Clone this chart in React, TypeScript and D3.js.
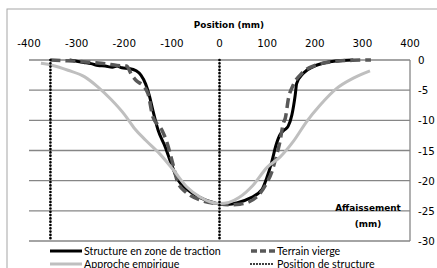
import React from "react";
import * as d3 from "d3";

// x = position (mm), v = affaissement (mm)
const structureX = [-315, -300, -285, -270, -255, -240, -225, -215, -205, -190, -175, -165, -155, -147, -140, -129, -114, -100, -87, -70, -50, -30, -10, 0, 20, 36, 64, 89, 99, 110, 118, 127, 136, 144, 152, 159, 162, 176, 197, 225, 259, 281];
const structureV = [0, -0.2, -0.4, -0.6, -0.9, -1.0, -1.2, -1.0, -1.3, -1.4, -1.8, -2.5, -4, -6, -8.3, -11.6, -14.4, -17.5, -19.9, -21.3, -22.4, -23.2, -23.7, -23.9, -23.9, -23.7, -22.9, -21.5, -19.6, -16.8, -14.3, -12.4, -11.6, -11, -9.1, -5.8, -3.9, -2.2, -1.1, -0.4, -0.1, 0];

const terrainX = [-355, -330, -300, -270, -240, -215, -195, -185, -175, -160, -150, -140, -121, -111, -100, -87, -69, -41, -6, 20, 43, 78, 99, 110, 117, 127, 134, 138, 145, 155, 173, 204, 246, 280, 318];
const terrainV = [0, -0.1, -0.2, -0.4, -0.6, -0.9, -1.0, -2.4, -3.4, -4.3, -5.6, -9.4, -11.6, -13.5, -16.6, -20.4, -22, -23.2, -23.8, -24, -23.9, -22.7, -20.4, -18.5, -16.6, -13.5, -10.5, -9.7, -6.3, -4.1, -2.2, -0.8, -0.2, -0.05, 0];

const empiriqueX = [-375, -350, -318, -283, -255, -227, -199, -178, -155, -125, -97, -69, -41, -20, 0, 20, 41, 70, 100, 127, 155, 183, 211, 246, 281, 316];
const empiriqueV = [-0.55, -0.9, -1.7, -2.8, -4.5, -6.6, -9.1, -11.4, -13.3, -15.6, -18.2, -21, -22.7, -23.5, -23.8, -23.6, -22.8, -20.8, -17.8, -16.1, -13.5, -10.2, -7.5, -4.7, -3.0, -1.8];

const structurePositions = [-355, 0];

const xTicks = [-400, -300, -200, -100, 0, 100, 200, 300, 400];
const yTicks = [0, -5, -10, -15, -20, -25, -30];

const legendItems = [
  "Structure en zone de traction",
  "Terrain vierge",
  "Approche empirique",
  "Position de structure",
];

const App = () => {
  const x = d3.scaleLinear().domain([-400, 400]).range([29, 410]);
  const y = d3.scaleLinear().domain([0, -30]).range([60, 241]);

  const line = d3
    .line<[number, number]>()
    .x((d) => x(d[0]))
    .y((d) => y(d[1]))
    .curve(d3.curveMonotoneX);

  const zip = (xs: number[], vs: number[]) =>
    xs.map((v, i) => [v, vs[i]] as [number, number]);

  const tickFont = "'DejaVu Sans', Verdana, sans-serif";
  const legendFont = "Lato, 'Liberation Sans', sans-serif";

  return (
    <svg
      width={437}
      height={268}
      style={{ position: "absolute", left: 0, top: 0, background: "#fff" }}
    >
      <rect x={7} y={9} width={500} height={320} fill="#fff" stroke="#a6a6a6" strokeWidth={1} />

      {/* gridlines */}
      {yTicks.map((t) => (
        <line key={t} x1={x(-400)} x2={x(400)} y1={y(t)} y2={y(t)} stroke="#868686" strokeWidth={1.3} />
      ))}
      <line x1={x(400)} x2={x(400)} y1={y(0)} y2={y(-30)} stroke="#868686" strokeWidth={1.3} />

      {/* x axis labels (top) */}
      {xTicks.map((t) => (
        <text key={t} x={x(t)} y={47} textAnchor="middle" fontFamily={tickFont} fontSize={10.3} fill="#000">
          {t}
        </text>
      ))}
      <text x={229} y={28} textAnchor="middle" fontFamily={tickFont} fontWeight="bold" fontSize={8.9}>
        Position (mm)
      </text>

      {/* y axis labels (right) */}
      {yTicks.map((t) => (
        <text key={t} x={418} y={y(t) + 4} fontFamily={tickFont} fontSize={10.3} fill="#000">
          {t}
        </text>
      ))}
      <text x={368} y={211} textAnchor="middle" fontFamily={tickFont} fontWeight="bold" fontSize={8.9}>
        Affaissement
      </text>
      <text x={368} y={227} textAnchor="middle" fontFamily={tickFont} fontWeight="bold" fontSize={8.9}>
        (mm)
      </text>

      {/* series */}
      <path d={line(zip(structureX, structureV)) ?? ""} fill="none" stroke="#000" strokeWidth={3} strokeLinejoin="round" />
      <path d={line(zip(terrainX, terrainV)) ?? ""} fill="none" stroke="#595959" strokeWidth={3.5} strokeDasharray="10,5" />
      <path d={line(zip(empiriqueX, empiriqueV)) ?? ""} fill="none" stroke="#bfbfbf" strokeWidth={3} />
      {structurePositions.map((p) => (
        <line key={p} x1={x(p)} x2={x(p)} y1={y(0)} y2={y(-30)} stroke="#000" strokeWidth={2.7} strokeLinecap="round" strokeDasharray="0,3.3" />
      ))}

      {/* legend */}
      <g fontFamily={legendFont} fontSize={10.7} fill="#000">
        <line x1={50} x2={82} y1={251} y2={251} stroke="#000" strokeWidth={3} />
        <text x={84} y={255}>{legendItems[0]}</text>
        <line x1={251} x2={275} y1={251} y2={251} stroke="#595959" strokeWidth={3.5} strokeDasharray="6,3" />
        <text x={277} y={255}>{legendItems[1]}</text>
        <line x1={50} x2={82} y1={264} y2={264} stroke="#bfbfbf" strokeWidth={3} />
        <text x={84} y={268}>{legendItems[2]}</text>
        <line x1={251} x2={275} y1={264} y2={264} stroke="#000" strokeWidth={2} strokeLinecap="round" strokeDasharray="0,3" />
        <text x={277} y={268}>{legendItems[3]}</text>
      </g>
    </svg>
  );
};

export default App;
